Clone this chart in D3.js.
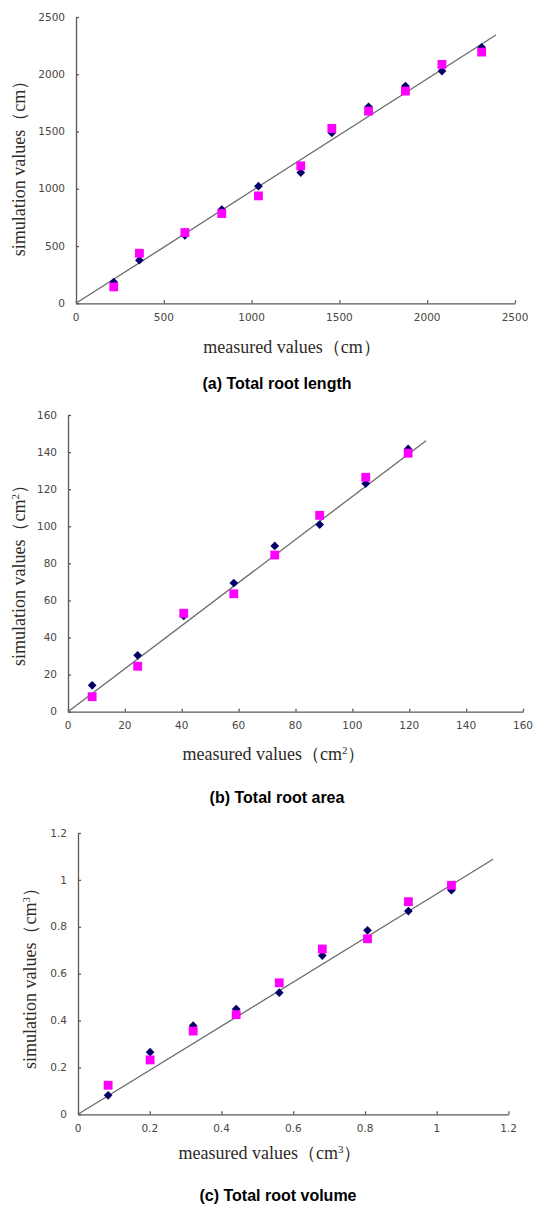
<!DOCTYPE html>
<html>
<head>
<meta charset="utf-8">
<script src="https://d3js.org/d3.v7.min.js"></script>
<style>
  body { margin: 0; background: #fff; }
  .tick-label { font-family: "DejaVu Sans", sans-serif; font-size: 10.5px; fill: #4a4642; }
  .axis-title { font-family: "Liberation Serif", "Times New Roman", serif; font-size: 18px; fill: #2e2a26; }
  .caption { font-family: "Liberation Sans", Arial, sans-serif; font-size: 16px; font-weight: bold; fill: #000; }
</style>
</head>
<body>
<div id="cont"></div>
<script>
// (a) total root length, cm
var measuredA = [215, 361, 620, 830, 1039, 1280, 1457, 1666, 1876, 2084, 2310];
var diamondA  = [186, 376, 594, 819, 1023, 1142, 1489, 1716, 1897, 2028, 2235];
var squareA   = [143, 437, 618, 784, 938, 1200, 1527, 1678, 1853, 2086, 2194];
var lineEndA  = [2391, 2343];
var ticksA    = [0, 500, 1000, 1500, 2000, 2500];

// (b) total root area, cm2
var measuredB = [8.5, 24.5, 40.7, 58.3, 72.7, 88.5, 104.7, 119.6];
var diamondB  = [14.2, 30.4, 51.6, 69.4, 89.4, 100.9, 123, 141.7];
var squareB   = [8.1, 24.5, 53.1, 63.6, 84.5, 105.9, 126.4, 139.4];
var lineEndB  = [125.9, 146.1];
var ticksB    = [0, 20, 40, 60, 80, 100, 120, 140, 160];

// (c) total root volume, cm3
var measuredC = [0.084, 0.201, 0.321, 0.441, 0.561, 0.681, 0.807, 0.921, 1.041];
var diamondC  = [0.081, 0.265, 0.378, 0.449, 0.519, 0.677, 0.785, 0.867, 0.956];
var squareC   = [0.124, 0.232, 0.355, 0.425, 0.561, 0.705, 0.749, 0.907, 0.977];
var lineEndC  = [1.157, 1.088];
var ticksC    = [0, 0.2, 0.4, 0.6, 0.8, 1, 1.2];

var svg = d3.select("#cont").append("svg")
    .attr("width", 533)
    .attr("height", 1205);

var drawPanel = function(p) {
    var x = d3.scaleLinear().domain([0, p.ticks[p.ticks.length - 1]]).range([p.left, p.right]);
    var y = d3.scaleLinear().domain([0, p.ticks[p.ticks.length - 1]]).range([p.bottom, p.top]);
    var g = svg.append("g");

    // axes, ticks point inward like the excel original
    var xAxis = d3.axisBottom(x).tickValues(p.ticks).tickSizeInner(-3).tickSizeOuter(0).tickFormat("");
    var yAxis = d3.axisLeft(y).tickValues(p.ticks).tickSizeInner(-3).tickSizeOuter(0).tickFormat("");
    g.append("g").attr("transform", "translate(0," + p.bottom + ")").call(xAxis);
    g.append("g").attr("transform", "translate(" + p.left + ",0)").call(yAxis);
    g.selectAll(".domain, .tick line").attr("stroke", "#595959").attr("stroke-width", 1.3);

    g.selectAll(".xl").data(p.ticks).enter().append("text")
        .attr("class", "tick-label")
        .attr("x", function(d) { return x(d); })
        .attr("y", p.bottom + 14)
        .attr("dy", "0.35em")
        .attr("text-anchor", "middle")
        .text(function(d) { return d; });
    g.selectAll(".yl").data(p.ticks).enter().append("text")
        .attr("class", "tick-label")
        .attr("x", p.left - 11)
        .attr("y", function(d) { return y(d); })
        .attr("dy", "0.35em")
        .attr("text-anchor", "end")
        .text(function(d) { return d; });

    // fitted line
    g.append("line")
        .attr("x1", x(0)).attr("y1", y(0))
        .attr("x2", x(p.lineEnd[0])).attr("y2", y(p.lineEnd[1]))
        .attr("stroke", "#6b6b6b")
        .attr("stroke-width", 1.3);

    var diamond = d3.symbol().type(d3.symbolSquare).size(38);
    g.selectAll(".dia").data(p.measured).enter().append("path")
        .attr("d", diamond)
        .attr("fill", "#000066")
        .attr("transform", function(d, i) {
            return "translate(" + x(d) + "," + y(p.diamond[i]) + ") rotate(45)";
        });

    var square = d3.symbol().type(d3.symbolSquare).size(78);
    g.selectAll(".sq").data(p.measured).enter().append("path")
        .attr("d", square)
        .attr("fill", "#ff00ff")
        .attr("transform", function(d, i) {
            return "translate(" + x(d) + "," + y(p.square[i]) + ")";
        });

    // axis titles
    var xt = g.append("text").attr("class", "axis-title")
        .attr("x", p.xTitle[0]).attr("y", p.xTitle[1])
        .attr("dy", "0.35em")
        .attr("text-anchor", "middle");
    xt.append("tspan").text("measured values\uFF08cm");
    if (p.sup) xt.append("tspan").attr("baseline-shift", "super").attr("font-size", "11px").text(p.sup);
    xt.append("tspan").text("\uFF09");

    var yt = g.append("text").attr("class", "axis-title")
        .attr("transform", "translate(" + p.yTitle[0] + "," + p.yTitle[1] + ") rotate(-90)")
        .attr("dy", "0.35em")
        .attr("text-anchor", "middle");
    yt.append("tspan").text("simulation values\uFF08cm");
    if (p.sup) yt.append("tspan").attr("baseline-shift", "super").attr("font-size", "11px").text(p.sup);
    yt.append("tspan").text("\uFF09");

    g.append("text").attr("class", "caption")
        .attr("x", p.caption[0]).attr("y", p.caption[1])
        .attr("dy", "0.35em")
        .attr("text-anchor", "middle")
        .text(p.captionText);
};

drawPanel({
    left: 76, right: 515, bottom: 303.3, top: 17,
    ticks: ticksA, measured: measuredA, diamond: diamondA, square: squareA, lineEnd: lineEndA,
    sup: "", xTitle: [292, 347], yTitle: [19, 164], caption: [277, 383],
    captionText: "(a) Total root length"
});
drawPanel({
    left: 68, right: 523, bottom: 711.7, top: 415,
    ticks: ticksB, measured: measuredB, diamond: diamondB, square: squareB, lineEnd: lineEndB,
    sup: "2", xTitle: [274, 754], yTitle: [19, 571], caption: [277, 797],
    captionText: "(b) Total root area"
});
drawPanel({
    left: 78, right: 508.5, bottom: 1114.3, top: 833,
    ticks: ticksC, measured: measuredC, diamond: diamondC, square: squareC, lineEnd: lineEndC,
    sup: "3", xTitle: [270, 1153], yTitle: [30, 974], caption: [278, 1195],
    captionText: "(c) Total root volume"
});
</script>
</body>
</html>
